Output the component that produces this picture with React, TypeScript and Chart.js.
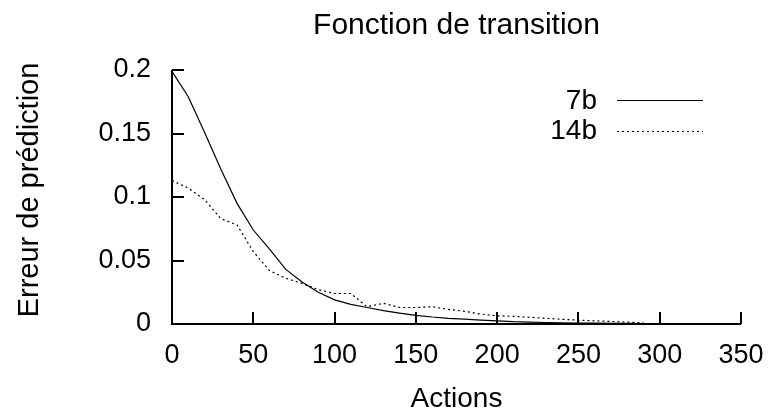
import React, { useEffect, useRef } from "react";
import { Chart, registerables } from "chart.js";

Chart.register(...registerables);

const chartTitle = "Fonction de transition";
const xAxisTitle = "Actions";
const yAxisTitle = "Erreur de prédiction";

const actions = [0, 10, 20, 30, 40, 50, 60, 70, 80, 90, 100, 110, 120, 130, 140, 150, 160, 170, 180, 190, 200, 210, 220, 230, 240, 250, 260, 270, 280, 290, 300, 310];

const err7b = [0.199, 0.179, 0.151, 0.122, 0.095, 0.074, 0.059, 0.043, 0.033, 0.025, 0.019, 0.0155, 0.013, 0.0105, 0.0085, 0.0068, 0.0055, 0.0045, 0.0038, 0.003, 0.0024, 0.0018, 0.0015, 0.0012, 0.001, 0.0008, 0.0007, 0.0006, 0.0005, 0.0004, 0.0003, 0.0003];

const err14b = [0.113, 0.107, 0.098, 0.083, 0.078, 0.057, 0.042, 0.036, 0.032, 0.027, 0.024, 0.024, 0.0136, 0.0163, 0.013, 0.013, 0.0136, 0.0115, 0.01, 0.0078, 0.0065, 0.006, 0.0053, 0.0045, 0.0037, 0.003, 0.0025, 0.002, 0.0015, 0.001, null, null];

const seriesLabels = ["7b", "14b"];

const xTickLabels = ["0", "50", "100", "150", "200", "250", "300", "350"];
const yTickLabels = ["0", "0.05", "0.1", "0.15", "0.2"];

const FONT = '"Liberation Sans", Arial, Helvetica, sans-serif';

const decorPlugin = {
  id: "decor",
  afterDraw(chart: any) {
    const { ctx, chartArea, scales } = chart;
    const xs = scales.x;
    const ys = scales.y;
    ctx.save();
    ctx.strokeStyle = "#000";
    ctx.lineWidth = 2;
    ctx.lineCap = "butt";
    ctx.beginPath();
    ctx.moveTo(chartArea.left, chartArea.top);
    ctx.lineTo(chartArea.left, chartArea.bottom);
    ctx.lineTo(chartArea.right, chartArea.bottom);
    ctx.stroke();
    const tl = 12;
    ctx.beginPath();
    xs.ticks.forEach((t: any) => {
      const px = Math.round(xs.getPixelForValue(t.value));
      ctx.moveTo(px, chartArea.bottom);
      ctx.lineTo(px, chartArea.bottom - tl);
    });
    ys.ticks.forEach((t: any) => {
      const py = Math.round(ys.getPixelForValue(t.value));
      ctx.moveTo(chartArea.left, py);
      ctx.lineTo(chartArea.left + tl, py);
    });
    ctx.stroke();

    ctx.fillStyle = "#000";

    // title
    ctx.font = `30px ${FONT}`;
    ctx.textAlign = "center";
    ctx.textBaseline = "alphabetic";
    ctx.fillText(chartTitle, (chartArea.left + chartArea.right) / 2, 34);

    // y axis title
    ctx.save();
    ctx.translate(30, 190);
    ctx.rotate(-Math.PI / 2);
    ctx.font = `29px ${FONT}`;
    ctx.textAlign = "center";
    ctx.textBaseline = "middle";
    ctx.fillText(yAxisTitle, 0, 0);
    ctx.restore();

    // legend
    ctx.font = `28px ${FONT}`;
    ctx.textAlign = "right";
    ctx.textBaseline = "middle";
    chart.data.datasets.forEach((ds: any, i: number) => {
      const ly = chartArea.top + 30 + i * 30.5;
      ctx.fillText(ds.label, chartArea.right - 144, ly + 1);
      ctx.save();
      ctx.strokeStyle = ds.borderColor;
      ctx.lineWidth = ds.borderWidth;
      ctx.setLineDash(ds.borderDash || []);
      ctx.beginPath();
      ctx.moveTo(chartArea.right - 124, Math.round(ly) + 0.5);
      ctx.lineTo(chartArea.right - 38, Math.round(ly) + 0.5);
      ctx.stroke();
      ctx.restore();
    });
    ctx.restore();
  },
};

export default function App() {
  const ref = useRef<HTMLCanvasElement | null>(null);
  useEffect(() => {
    if (!ref.current) return;
    const chart = new Chart(ref.current, {
      type: "line",
      data: {
        labels: actions,
        datasets: [
          {
            label: seriesLabels[0],
            data: actions.map((a, i) => ({ x: a, y: err7b[i] })),
            borderColor: "#000",
            borderWidth: 1.2,
            pointRadius: 0,
            tension: 0,
            fill: false,
          },
          {
            label: seriesLabels[1],
            data: actions.map((a, i) => ({ x: a, y: err14b[i] })),
            borderColor: "#000",
            borderWidth: 1.2,
            borderDash: [2, 3],
            pointRadius: 0,
            tension: 0,
            fill: false,
            spanGaps: false,
          },
        ],
      },
      options: {
        animation: false,
        responsive: false,
        maintainAspectRatio: false,
        events: [],
        layout: { padding: { top: 70, right: 31, left: 0, bottom: 0 } },
        plugins: {
          legend: { display: false },
          title: { display: false },
          tooltip: { enabled: false },
        },
        scales: {
          x: {
            type: "linear",
            min: 0,
            max: 350,
            grid: { display: false, drawTicks: false },
            border: { display: false },
            ticks: {
              stepSize: 50,
              color: "#000",
              padding: 15,
              maxRotation: 0,
              font: { family: FONT, size: 27 },
              callback: (_v: any, i: number) => xTickLabels[i],
            },
            title: {
              display: true,
              text: xAxisTitle,
              color: "#000",
              font: { family: FONT, size: 28 },
              padding: { top: 0, bottom: 0 },
            },
            afterFit: (s: any) => {
              s.height = 92;
              s.paddingLeft = 0;
              s.paddingRight = 0;
            },
          },
          y: {
            type: "linear",
            min: 0,
            max: 0.2,
            grid: { display: false, drawTicks: false },
            border: { display: false },
            ticks: {
              stepSize: 0.05,
              color: "#000",
              padding: 21,
              font: { family: FONT, size: 27 },
              callback: (_v: any, i: number) => yTickLabels[i],
            },
            afterFit: (s: any) => {
              s.width = 172;
              s.paddingTop = 0;
              s.paddingBottom = 0;
            },
          },
        },
      },
      plugins: [decorPlugin],
    });
    return () => chart.destroy();
  }, []);
  return (
    <div style={{ position: "fixed", left: 0, top: 0, width: 772, height: 416, background: "#fff" }}>
      <canvas ref={ref} width={772} height={416} style={{ width: 772, height: 416, display: "block" }} />
    </div>
  );
}
